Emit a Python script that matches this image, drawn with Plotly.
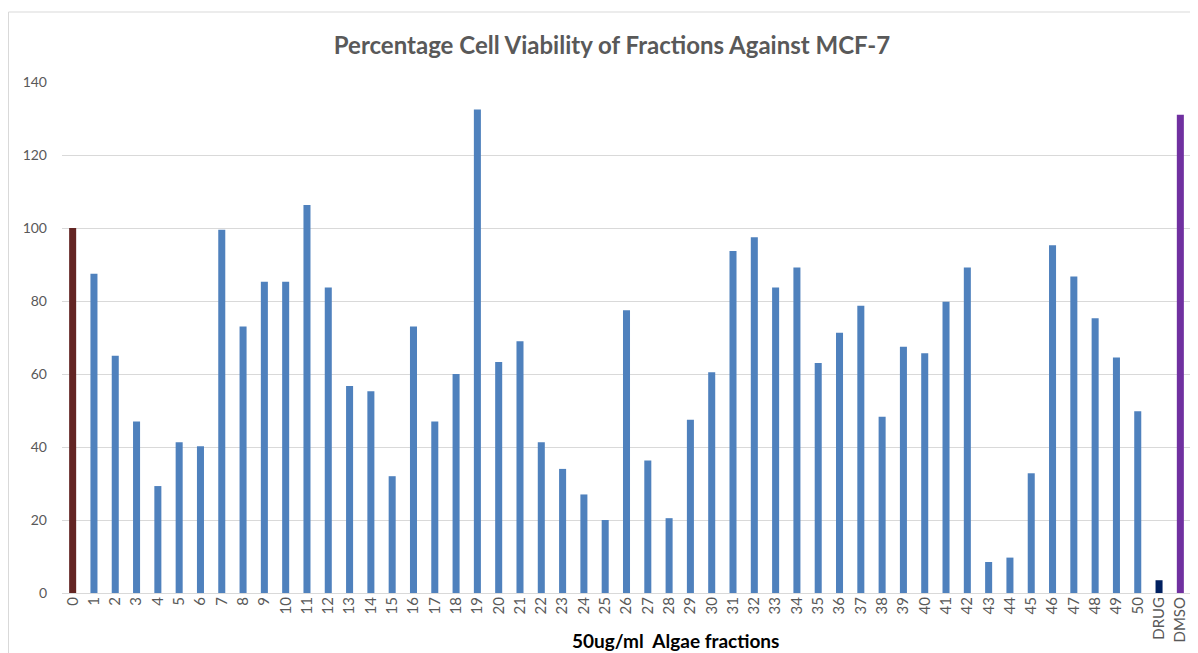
import plotly.graph_objects as go

categories = [str(i) for i in range(51)] + ["DRUG", "DMSO"]
values = [100, 87.5, 65, 47, 29.3, 41.3, 40.2, 99.5, 73, 85.3,
          85.3, 106.3, 83.7, 56.7, 55.3, 32, 73, 47, 60, 132.5,
          63.3, 69, 41.3, 34, 27, 20, 77.5, 36.3, 20.5, 47.5,
          60.5, 93.7, 97.5, 83.7, 89.2, 63, 71.3, 78.7, 48.3, 67.5,
          65.7, 79.8, 89.2, 8.5, 9.7, 32.8, 95.3, 86.7, 75.3, 64.5,
          49.8, 3.5, 131]
bar_colors = ["#632523"] + ["#4F81BD"] * 50 + ["#002060", "#7030A0"]

# page body has an 8px margin, so the figure is drawn 8px smaller
W, H = 1190, 645
L, R, T, B = 54, 7, 74, 60
pw, ph = W - L - R, H - T - B

fig = go.Figure(go.Bar(x=categories, y=values, marker=dict(color=bar_colors, line=dict(width=0)),
                       width=0.33))

fig.update_layout(
    width=W, height=H,
    margin=dict(l=L, r=R, t=T, b=B, autoexpand=False),
    plot_bgcolor="white", paper_bgcolor="white",
    showlegend=False,
    title=dict(text="<b>Percentage Cell Viability of Fractions Against MCF-7</b>",
               x=604 / W, xanchor="center", y=1 - 38 / H, yanchor="middle",
               font=dict(family="Lato, Open Sans, sans-serif", size=24, color="#595959")),
    xaxis=dict(type="category", tickangle=-90, automargin=False,
               tickfont=dict(family="Lato, sans-serif", size=15, color="#595959"),
               showgrid=False, showline=False, ticks="", range=[-0.5, 52.5]),
    yaxis=dict(range=[0, 140], dtick=20, showgrid=True, gridcolor="#D9D9D9", gridwidth=1,
               automargin=False,
               zeroline=True, zerolinecolor="#D9D9D9", zerolinewidth=1, ticks="",
               tickfont=dict(family="Lato, sans-serif", size=14, color="#595959"), ticklabelstandoff=14),
    annotations=[dict(text="<b>50ug/ml  Algae fractions</b>", xref="paper", yref="paper",
                      x=(667 - L) / pw, y=-(632 - T - ph) / ph, xanchor="center", yanchor="middle",
                      showarrow=False, font=dict(family="Lato, sans-serif", size=19, color="black"))],
    shapes=[dict(type="rect", xref="paper", yref="paper",
                 x0=(0.5 - L) / pw, x1=(1189 - L) / pw,
                 y0=-(H + 10 - T - ph) / ph, y1=1 + (T - 4) / ph,
                 line=dict(color="#D9D9D9", width=1), fillcolor="rgba(0,0,0,0)", layer="below")],
)

fig.write_html("out.html")
